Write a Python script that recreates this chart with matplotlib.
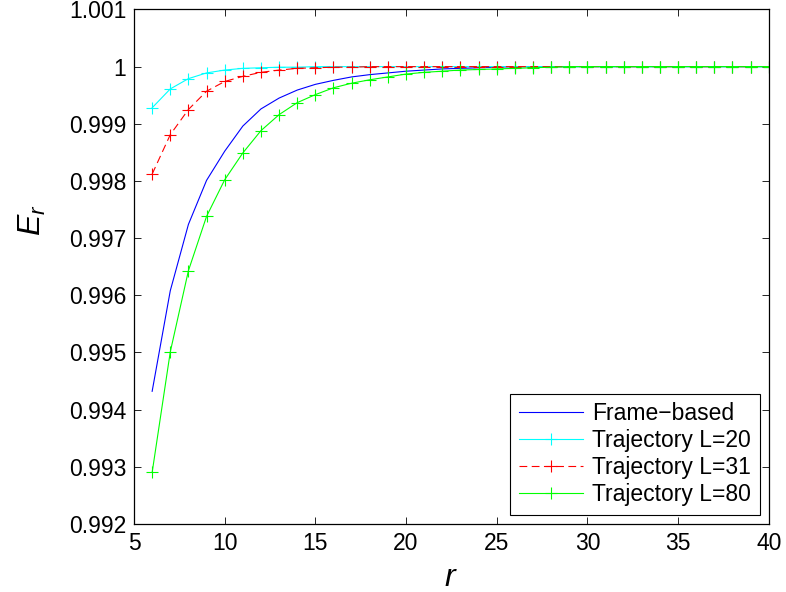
import matplotlib
matplotlib.use("Agg")
import matplotlib.pyplot as plt

plt.rcParams.update({
    "font.family": ["Liberation Sans", "DejaVu Sans"],
    "font.size": 16.5,
    "mathtext.fontset": "custom",
    "mathtext.it": "Liberation Sans:italic",
    "mathtext.rm": "Liberation Sans",
})

# ── data ──────────────────────────────────────────────────────────────────────
r = list(range(6, 41))

frame_based = [0.99432, 0.99608, 0.99724, 0.99801, 0.99852, 0.99896, 0.99926,
               0.99945, 0.99959, 0.99969, 0.99976, 0.99982, 0.99986, 0.99989,
               0.99992, 0.99994, 0.99996, 0.99997, 0.99998, 0.99999] + [1.0] * 15

traj_l20 = [0.99928, 0.99961, 0.99979, 0.99989, 0.99994, 0.99997, 0.99998,
            0.99999, 0.99999] + [1.0] * 26

traj_l31 = [0.99812, 0.99881, 0.99925, 0.99957, 0.99974, 0.99983, 0.99990,
            0.99994, 0.99997, 0.99998, 0.99999, 0.99999] + [1.0] * 23

traj_l80 = [0.99290, 0.99501, 0.99643, 0.99738, 0.99802, 0.99849, 0.99888,
            0.99916, 0.99937, 0.99951, 0.99963, 0.99971, 0.99977, 0.99982,
            0.99987, 0.99990, 0.99992, 0.99994, 0.99995, 0.99996, 0.99997,
            0.99998, 0.99999] + [1.0] * 12

labels = ["Frame\u2212based", "Trajectory L=20", "Trajectory L=31", "Trajectory L=80"]

x_ticks = [5, 10, 15, 20, 25, 30, 35, 40]
y_ticks = [0.992, 0.993, 0.994, 0.995, 0.996, 0.997, 0.998, 0.999, 1.0, 1.001]
y_tick_labels = ["0.992", "0.993", "0.994", "0.995", "0.996", "0.997", "0.998",
                 "0.999", "1", "1.001"]

# ── figure ────────────────────────────────────────────────────────────────────
fig = plt.figure(figsize=(7.86, 5.92), dpi=100)
ax = fig.add_axes([0.1705, 0.115, 0.8075, 0.869])

lw = 0.8
mk = dict(marker="+", ms=8, mew=0.8)
ax.plot(r, frame_based, color="#0000ff", lw=lw, label=labels[0])
ax.plot(r, traj_l20, color="#00ffff", lw=lw, label=labels[1], **mk)
ax.plot(r, traj_l31, color="#ff0000", lw=lw, ls=(0, (7, 4)), label=labels[2], **mk)
ax.plot(r, traj_l80, color="#00ff00", lw=lw, label=labels[3], **mk)

ax.set_xlim(5, 40)
ax.set_ylim(0.992, 1.001)
ax.set_xticks(x_ticks)
ax.set_yticks(y_ticks)
ax.set_yticklabels(y_tick_labels)
ax.tick_params(direction="in", length=5, width=0.6, top=True, right=True,
               labelsize=16.5)
ax.tick_params(axis="x", pad=6)
ax.tick_params(axis="y", pad=5.5)
for s in ax.spines.values():
    s.set_linewidth(0.9)

ax.set_xlabel("$r$", fontsize=23)
ax.set_ylabel("$E_r$", fontsize=23)
ax.xaxis.set_label_coords(0.5, -0.075)
ax.yaxis.set_label_coords(-0.135, 0.59)

leg = ax.legend(loc="lower right", fontsize=16.5, fancybox=False, framealpha=1,
                edgecolor="black", borderpad=0.38, labelspacing=0.17,
                handlelength=2.8, handletextpad=0.4, borderaxespad=0.4)
leg.get_frame().set_linewidth(0.8)

fig.savefig("out.png", dpi=100)
